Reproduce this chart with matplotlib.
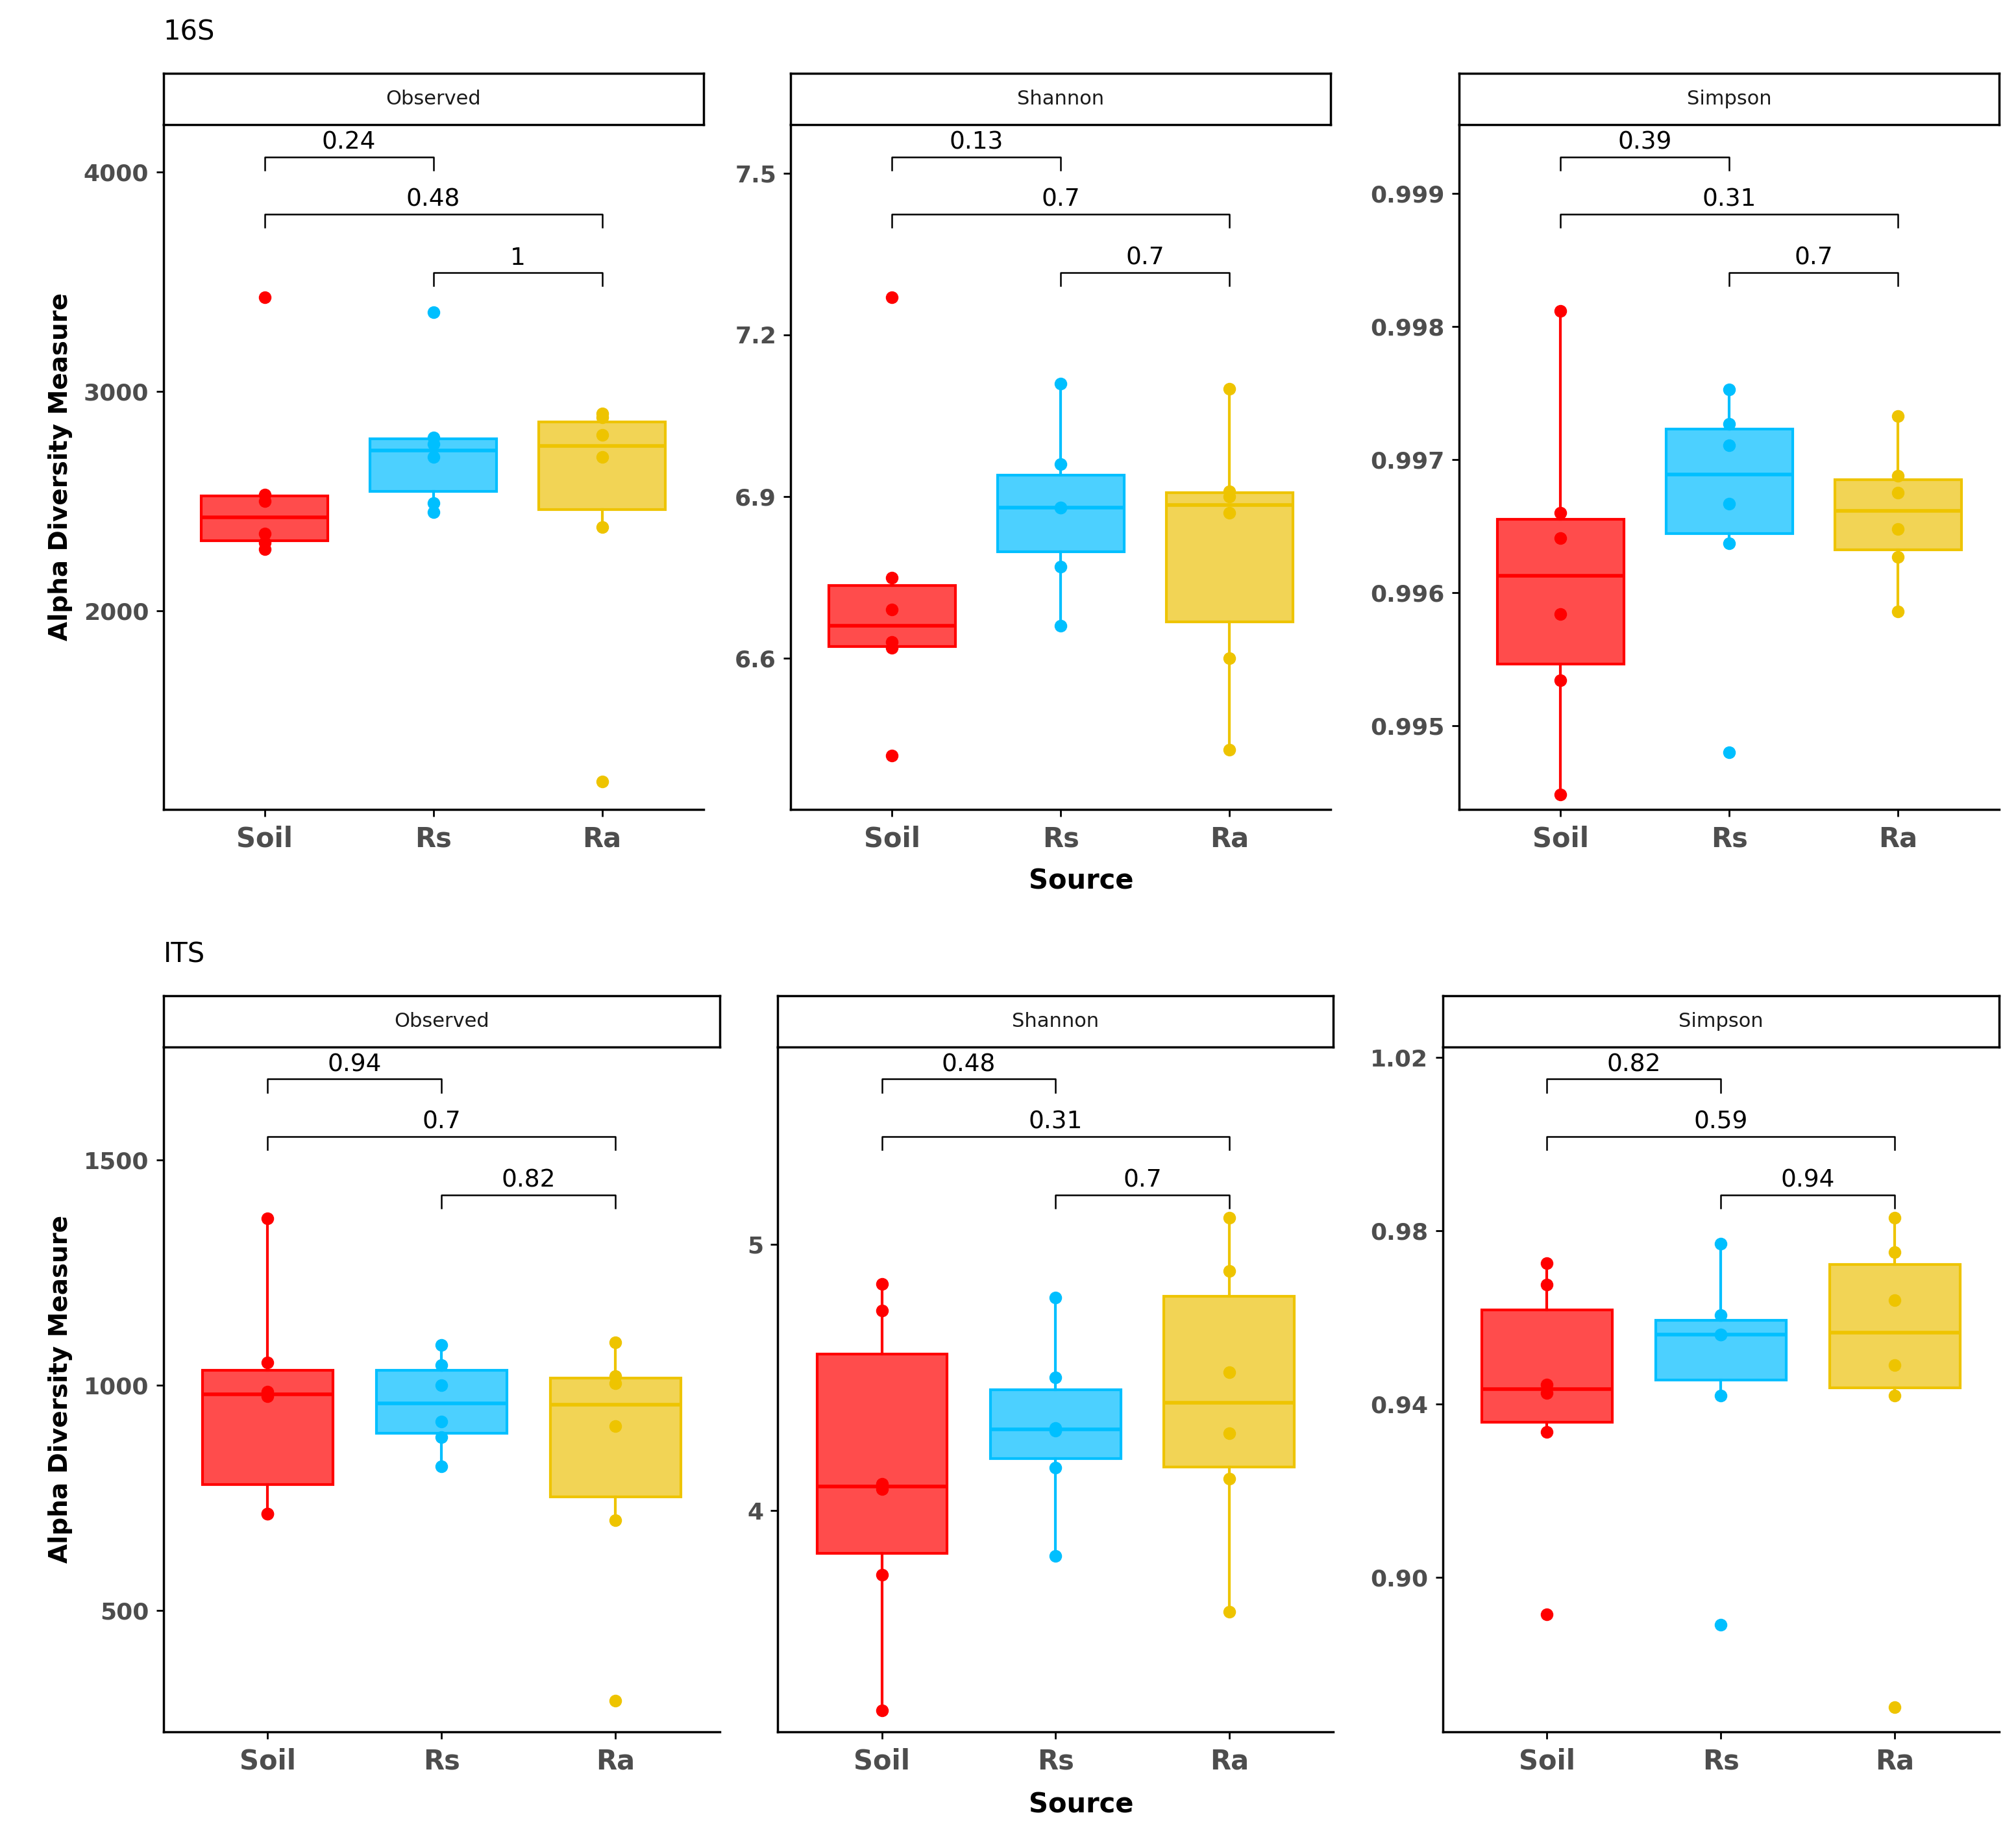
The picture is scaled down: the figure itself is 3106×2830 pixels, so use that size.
import matplotlib
matplotlib.use("Agg")
import matplotlib.pyplot as plt
import numpy as np
from matplotlib.transforms import blended_transform_factory

plt.rcParams['font.family'] = ['DejaVu Sans']

groups = ["Soil", "Rs", "Ra"]
metrics = ["Observed", "Shannon", "Simpson"]

s16_observed = [[3430, 2530, 2500, 2350, 2310, 2280],
                [3360, 2790, 2760, 2700, 2490, 2450],
                [2900, 2880, 2800, 2700, 2380, 1220]]
s16_shannon = [[7.27, 6.75, 6.69, 6.63, 6.62, 6.42],
               [7.11, 6.96, 6.88, 6.88, 6.77, 6.66],
               [7.10, 6.91, 6.90, 6.87, 6.60, 6.43]]
s16_simpson = [[0.99812, 0.99660, 0.99641, 0.99584, 0.99534, 0.99448],
               [0.99753, 0.99727, 0.99711, 0.99667, 0.99637, 0.99480],
               [0.99733, 0.99688, 0.99675, 0.99648, 0.99627, 0.99586]]
its_observed = [[1370, 1050, 985, 975, 715, 715],
                [1090, 1045, 1000, 920, 885, 820],
                [1095, 1020, 1005, 910, 700, 300]]
its_shannon = [[4.85, 4.75, 4.10, 4.08, 3.76, 3.25],
               [4.80, 4.50, 4.31, 4.30, 4.16, 3.83],
               [5.10, 4.90, 4.52, 4.29, 4.12, 3.62]]
its_simpson = [[0.9725, 0.9675, 0.9445, 0.9425, 0.9335, 0.8915],
               [0.9770, 0.9605, 0.9560, 0.9560, 0.9420, 0.8890],
               [0.9830, 0.9750, 0.9640, 0.9490, 0.9420, 0.8700]]

s16_pvals = [["0.24", "0.48", "1"], ["0.13", "0.7", "0.7"], ["0.39", "0.31", "0.7"]]
its_pvals = [["0.94", "0.7", "0.82"], ["0.48", "0.31", "0.7"], ["0.82", "0.59", "0.94"]]

s16_ticks = [[2000, 3000, 4000], [6.6, 6.9, 7.2, 7.5], [0.995, 0.996, 0.997, 0.998, 0.999]]
its_ticks = [[500, 1000, 1500], [4, 5], [0.90, 0.94, 0.98, 1.02]]
s16_ylim = [(1094, 4216), (6.32, 7.59), (0.99437, 0.99952)]
its_ylim = [(231, 1751), (3.17, 5.74), (0.8644, 1.0224)]
s16_fmt = ["{:.0f}", "{:.1f}", "{:.3f}"]
its_fmt = ["{:.0f}", "{:.0f}", "{:.2f}"]

line_cols = ["#FF0000", "#00BFFF", "#EEC400"]
face_cols = ["#FF4C4C", "#4CD0FF", "#F2D455"]

W, H = 1568.0, 1430.0
fig = plt.figure(figsize=(31.06, 28.30), dpi=100)

def fx(x): return x / W
def fy(y): return 1 - y / H

rows = [
    dict(title="16S", title_y=25, top=97, bot=630, strip_top=57,
         xs=[(127, 547), (615, 1035), (1135, 1555)],
         data=[s16_observed, s16_shannon, s16_simpson], p=s16_pvals,
         ticks=s16_ticks, ylim=s16_ylim, fmt=s16_fmt, source_y=686),
    dict(title="ITS", title_y=743, top=815, bot=1348, strip_top=775,
         xs=[(127, 560), (605, 1037), (1122, 1555)],
         data=[its_observed, its_shannon, its_simpson], p=its_pvals,
         ticks=its_ticks, ylim=its_ylim, fmt=its_fmt, source_y=1405),
]

pairs = [(1, 2), (1, 3), (2, 3)]
bracket_y = [0.953, 0.869, 0.784]

for r in rows:
    fig.text(fx(127), fy(r["title_y"]), r["title"], fontsize=30, ha="left", va="center")
    for i, (x0, x1) in enumerate(r["xs"]):
        ax = fig.add_axes([fx(x0), fy(r["bot"]), fx(x1 - x0), (r["bot"] - r["top"]) / H])
        vals = r["data"][i]
        bp = ax.boxplot(vals, positions=[1, 2, 3], widths=0.75, patch_artist=True,
                        showfliers=False, medianprops=dict(linewidth=4))
        for k in range(3):
            bp["boxes"][k].set(facecolor=face_cols[k], edgecolor=line_cols[k], linewidth=3)
            bp["medians"][k].set(color=line_cols[k])
            for w in bp["whiskers"][2 * k:2 * k + 2]:
                w.set(color=line_cols[k], linewidth=3)
            for c in bp["caps"][2 * k:2 * k + 2]:
                c.set(visible=False)
            ax.scatter([k + 1] * len(vals[k]), vals[k], s=170, color=line_cols[k], zorder=3)
        ax.set_xlim(0.4, 3.6)
        ax.set_ylim(*r["ylim"][i])
        ax.set_yticks(r["ticks"][i])
        ax.set_yticklabels([r["fmt"][i].format(t) for t in r["ticks"][i]])
        ax.set_xticks([1, 2, 3])
        ax.set_xticklabels(groups)
        ax.tick_params(axis="x", labelsize=30, length=8, width=2, colors="#4D4D4D", pad=10)
        ax.tick_params(axis="y", labelsize=26, length=8, width=2, colors="#4D4D4D", pad=8)
        for lab in ax.get_xticklabels() + ax.get_yticklabels():
            lab.set_fontweight("bold")
        ax.tick_params(axis="both", color="black")
        for s in ["top", "right"]:
            ax.spines[s].set_visible(False)
        for s in ["left", "bottom"]:
            ax.spines[s].set_linewidth(2.5)
        tr = blended_transform_factory(ax.transData, ax.transAxes)
        for (a, b), yb, lab in zip(pairs, bracket_y, r["p"][i]):
            ax.plot([a, a, b, b], [yb - 0.019, yb, yb, yb - 0.019], color="black",
                    linewidth=1.8, transform=tr, clip_on=False)
            ax.text((a + b) / 2, yb + 0.004, lab, transform=tr, ha="center", va="bottom",
                    fontsize=27)
        sax = fig.add_axes([fx(x0), fy(r["top"]), fx(x1 - x0), (r["top"] - r["strip_top"]) / H])
        sax.set_xticks([]); sax.set_yticks([])
        for s in sax.spines.values():
            s.set_linewidth(2.5)
        sax.text(0.5, 0.5, metrics[i], ha="center", va="center", fontsize=22,
                 transform=sax.transAxes, color="#1A1A1A")
        if i == 0:
            ax.set_ylabel("Alpha Diversity Measure", fontsize=28, fontweight="bold", labelpad=12)
    fig.text(fx(841), fy(r["source_y"]), "Source", fontsize=30, fontweight="bold",
             ha="center", va="center")

fig.savefig("out.png", dpi=100)
